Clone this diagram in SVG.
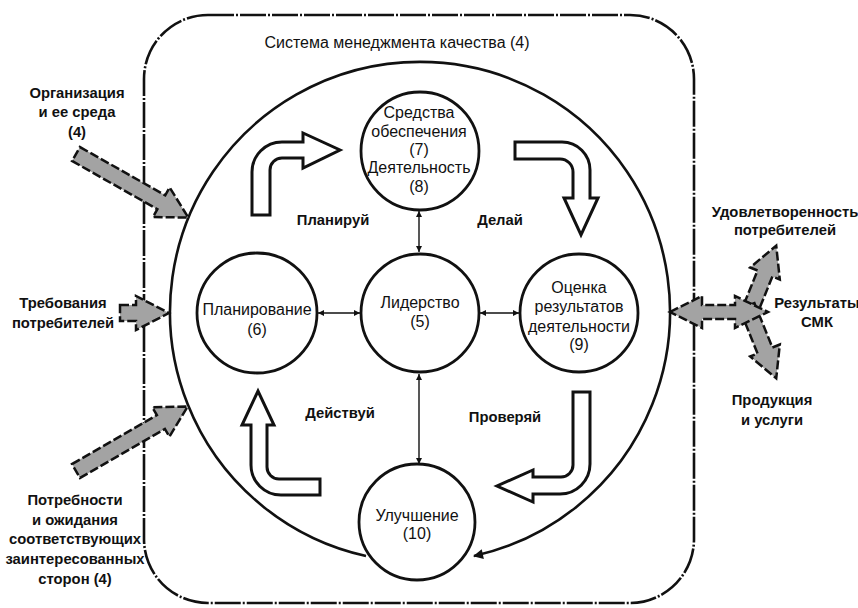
<svg xmlns="http://www.w3.org/2000/svg" width="858" height="608" viewBox="0 0 858 608">
<style>
.t{font-family:"Liberation Sans",Arial,sans-serif;font-size:16px;fill:#111;text-anchor:middle}
.b{font-weight:bold;font-size:14.8px}
.node{fill:#fff;stroke:#111;stroke-width:2.8}
.fat{fill:#fff;stroke:#111;stroke-width:3;stroke-linejoin:miter}
.gray{fill:#a3a3a3;stroke:#111;stroke-width:2.5;stroke-dasharray:9 3}
.thin{fill:none;stroke:#111;stroke-width:1.4}
.cycle{fill:none;stroke:#111;stroke-width:2.6}
</style>
<defs>
<marker id="sa" viewBox="0 0 10 10" refX="10" refY="5" markerWidth="8" markerHeight="6" markerUnits="userSpaceOnUse" orient="auto-start-reverse"><path d="M0,0 L10,5 L0,10 Z" fill="#111"/></marker>
<marker id="ba" viewBox="0 0 10 10" refX="9" refY="5" markerWidth="16" markerHeight="10" markerUnits="userSpaceOnUse" orient="auto"><path d="M0,0 L10,5 L0,10 Z" fill="#111"/></marker>
</defs>
<rect width="858" height="608" fill="#fff"/>
<g id="qms">
<rect x="144" y="15" width="550" height="588" rx="64" ry="64" fill="none" stroke="#111" stroke-width="2.6" stroke-dasharray="26 2 2 2"/>
<text class="t" x="397" y="48">Система менеджмента качества (4)</text>
</g>
<g id="connectors">
<path class="cycle" d="M366,556 A250,250 0 1 1 474,556" marker-end="url(#ba)"/>
<line class="thin" x1="419" y1="211" x2="419" y2="252" marker-start="url(#sa)" marker-end="url(#sa)"/>
<line class="thin" x1="419" y1="374" x2="419" y2="464" marker-start="url(#sa)" marker-end="url(#sa)"/>
<line class="thin" x1="318" y1="313" x2="360" y2="313" marker-start="url(#sa)" marker-end="url(#sa)"/>
<line class="thin" x1="480" y1="313" x2="519" y2="313" marker-start="url(#sa)" marker-end="url(#sa)"/>
</g>
<g id="pdca-arrows">
<path class="fat" d="M252,215 V172 A30,30 0 0 1 282,142 H303 V133 L340,150 L303,168 V158 H282 A12,12 0 0 0 270,170 V215 Z"/>
<path class="fat" d="M515,142 H562 A28,28 0 0 1 590,170 V198 H598 L581,235 L564,198 H573 V172 A13,13 0 0 0 560,159 H515 Z"/>
<path class="fat" d="M573,392 H590 V464 A30,30 0 0 1 560,494 H533 V502 L497,486 L533,470 V477 H561 A12,12 0 0 0 573,465 Z"/>
<path class="fat" d="M320,479 H279 A12,12 0 0 1 267,467 V425 H274 L258,391 L242,425 H251 V465 A30,30 0 0 0 281,495 H320 Z"/>
<text class="t b" x="333" y="225">Планируй</text>
<text class="t b" x="500" y="225">Делай</text>
<text class="t b" x="340" y="418">Действуй</text>
<text class="t b" x="505" y="422">Проверяй</text>
</g>
<g id="support">
<circle class="node" cx="420" cy="151" r="59"/>
<text class="t" x="419" y="118">Средства</text>
<text class="t" x="419" y="137">обеспечения</text>
<text class="t" x="419" y="155">(7)</text>
<text class="t" x="419" y="173">Деятельность</text>
<text class="t" x="419" y="192">(8)</text>
</g>
<g id="planning">
<circle class="node" cx="257" cy="313" r="60"/>
<text class="t" x="257" y="315">Планирование</text>
<text class="t" x="257" y="335">(6)</text>
</g>
<g id="leadership">
<circle class="node" cx="420" cy="313" r="59"/>
<text class="t" x="420" y="308">Лидерство</text>
<text class="t" x="420" y="327">(5)</text>
</g>
<g id="evaluation">
<circle class="node" cx="579" cy="313" r="59"/>
<text class="t" x="579" y="293">Оценка</text>
<text class="t" x="579" y="312">результатов</text>
<text class="t" x="579" y="332">деятельности</text>
<text class="t" x="579" y="350">(9)</text>
</g>
<g id="improvement">
<circle class="node" cx="417" cy="522" r="58"/>
<text class="t" x="417" y="521">Улучшение</text>
<text class="t" x="417" y="539">(10)</text>
</g>
<g id="organization">
<path class="gray" transform="translate(76,154) rotate(29.5)" d="M0,-8 H98 V-17 L129,0 L98,17 V8 H0 Z"/>
<text class="t b" x="77" y="98">Организация</text>
<text class="t b" x="77" y="117">и ее среда</text>
<text class="t b" x="77" y="137">(4)</text>
</g>
<g id="requirements">
<path class="gray" d="M120,305 H136 V296 L169,313 L136,330 V321 H120 Z"/>
<text class="t b" x="63" y="308">Требования</text>
<text class="t b" x="63" y="328">потребителей</text>
</g>
<g id="stakeholders">
<path class="gray" transform="translate(76,471) rotate(-30)" d="M0,-8 H98 V-17 L129,0 L98,17 V8 H0 Z"/>
<text class="t b" x="75" y="505">Потребности</text>
<text class="t b" x="75" y="525">и ожидания</text>
<text class="t b" x="75" y="544">соответствующих</text>
<text class="t b" x="75" y="564">заинтересованных</text>
<text class="t b" x="75" y="584">сторон (4)</text>
</g>
<g id="results">
<path class="gray" transform="translate(747,318) rotate(-68)" d="M0,-8 H48 V-16 L78,0 L48,16 V8 H0 Z"/>
<path class="gray" transform="translate(747,306) rotate(68)" d="M0,-8 H48 V-16 L78,0 L48,16 V8 H0 Z"/>
<path class="gray" d="M670,312 L702,296 V305 H735 V296 L768,312 L735,328 V319 H702 V328 Z"/>
<text class="t b" x="785" y="217">Удовлетворенность</text>
<text class="t b" x="785" y="235">потребителей</text>
<text class="t b" x="817" y="308">Результаты</text>
<text class="t b" x="817" y="327">СМК</text>
<text class="t b" x="772" y="405">Продукция</text>
<text class="t b" x="772" y="425">и услуги</text>
</g>
</svg>
